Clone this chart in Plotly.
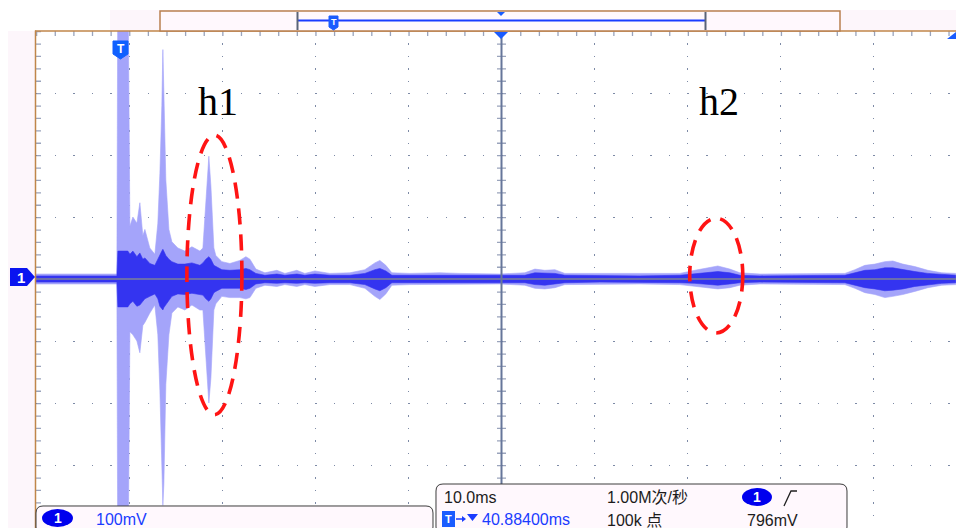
import plotly.graph_objects as go

# ---------------- data ----------------
# time relative to trigger (ms); envelope of trace (mV)
t_ms = [-9.12, -0.43, -0.32, 0.75, 0.97, 1.29, 1.72, 2.04, 2.36, 2.58, 3.11, 3.65, 3.97,
        4.19, 4.40, 4.51, 4.62, 4.83, 5.16, 5.48, 6.12, 6.87, 7.63, 8.49, 8.81, 9.13, 9.45,
        9.67, 9.99, 10.20, 10.85, 11.71, 12.78, 13.43, 13.86, 14.50, 15.47, 16.76, 17.62,
        18.90, 19.76, 20.84, 22.45, 24.60, 26.21, 27.28, 27.82, 28.46, 29.11, 31.04, 34.26,
        36.41, 40.71, 43.39, 44.47, 45.54, 46.62, 47.69, 51.45, 55.75, 60.04, 61.65, 63.26,
        64.12, 65.41, 66.49, 68.64, 72.93, 77.77, 78.84, 79.91, 80.99, 82.06, 82.92, 83.99,
        85.28, 86.68, 88.18, 89.69]
peak_hi = [8, 8, 520, 520, 85, 100, 90, 123, 70, 80, 50, 40, 90,
           170, 280, 370, 300, 160, 80, 60, 50, 45, 52, 45, 50, 130, 198,
           150, 50, 38, 28, 25, 30, 36, 32, 16, 10, 14, 9,
           14, 9, 13, 9, 10, 15, 26, 30, 22, 10, 9, 10,
           9, 8, 10, 16, 14, 15, 9, 9, 8, 9, 14, 18,
           21, 16, 10, 8, 8, 9, 15, 22, 24, 28, 29, 24,
           20, 14, 10, 9]
peak_lo = [-8, -8, -520, -520, -85, -90, -100, -119, -75, -70, -55, -42, -90,
           -180, -300, -365, -330, -170, -90, -55, -45, -50, -42, -50, -50, -130, -200,
           -160, -50, -40, -28, -30, -30, -32, -30, -15, -10, -12, -9,
           -12, -9, -12, -9, -9, -15, -28, -33, -24, -10, -9, -9,
           -9, -8, -10, -15, -16, -14, -9, -8, -8, -9, -12, -15,
           -16, -14, -10, -8, -8, -9, -15, -22, -25, -30, -28, -25,
           -20, -14, -10, -9]
dense_hi = [5, 5, 45, 45, 40, 45, 36, 42, 32, 34, 25, 22, 32,
            40, 45, 48, 45, 38, 32, 28, 24, 24, 26, 22, 26, 32, 36,
            32, 22, 20, 15, 14, 15, 17, 15, 9, 6, 8, 6,
            8, 6, 8, 6, 6, 9, 15, 17, 13, 6, 6, 6,
            6, 5, 6, 10, 9, 9, 6, 5, 5, 6, 8, 11,
            12, 10, 6, 5, 5, 6, 10, 14, 15, 18, 18, 15,
            12, 9, 7, 6]
dense_lo = [-5, -5, -45, -45, -40, -36, -44, -42, -36, -32, -28, -24, -32,
            -44, -48, -50, -46, -42, -36, -28, -24, -25, -23, -25, -26, -32, -36,
            -32, -22, -20, -15, -15, -15, -17, -15, -8, -6, -7, -6,
            -7, -6, -7, -6, -6, -9, -16, -19, -14, -6, -6, -6,
            -5, -5, -6, -9, -10, -8, -6, -5, -5, -6, -7, -9,
            -10, -8, -6, -5, -5, -6, -10, -14, -16, -19, -18, -16,
            -12, -9, -7, -6]

# scope settings
time_div_ms = 10.0
volt_div_mv = 100.0
trig_offset_ms = 40.884        # centre of screen relative to trigger
x_left_ms = trig_offset_ms - 5 * time_div_ms
x_right_ms = x_left_ms + 920 / 9.31
ellipse_h1 = dict(t0=7.09, t1=13.0, v0=-219, v1=232)
ellipse_h2 = dict(t0=61.1, t1=66.8, v0=-87, v1=98)
labels_top = ["h1", "h2"]

# ---------------- pixel helpers for decorations ----------------
L, T, W, H = 36, 31, 920, 496


def PX(x):
    return (x - L) / W


def PY(y):
    return (T + H - y) / H


def path(points, close=True):
    s = "M" + " L".join(f"{PX(x):.5f},{PY(y):.5f}" for x, y in points)
    return s + (" Z" if close else "")


def rrect(x0, y0, x1, y1, r):
    p = (f"M{PX(x0 + r):.5f},{PY(y0):.5f} L{PX(x1 - r):.5f},{PY(y0):.5f} "
         f"Q{PX(x1):.5f},{PY(y0):.5f} {PX(x1):.5f},{PY(y0 + r):.5f} "
         f"L{PX(x1):.5f},{PY(y1 - r):.5f} "
         f"Q{PX(x1):.5f},{PY(y1):.5f} {PX(x1 - r):.5f},{PY(y1):.5f} "
         f"L{PX(x0 + r):.5f},{PY(y1):.5f} "
         f"Q{PX(x0):.5f},{PY(y1):.5f} {PX(x0):.5f},{PY(y1 - r):.5f} "
         f"L{PX(x0):.5f},{PY(y0 + r):.5f} "
         f"Q{PX(x0):.5f},{PY(y0):.5f} {PX(x0 + r):.5f},{PY(y0):.5f} Z")
    return p


fig = go.Figure()

LAV = "#a4a4fa"
BLUE = "#3434f0"
fig.add_trace(go.Scatter(x=t_ms, y=peak_lo, mode="lines", line=dict(width=0.6, color=LAV),
                         hoverinfo="skip", showlegend=False))
fig.add_trace(go.Scatter(x=t_ms, y=peak_hi, mode="lines", line=dict(width=0.6, color=LAV),
                         fill="tonexty", fillcolor=LAV, hoverinfo="skip", showlegend=False))
fig.add_trace(go.Scatter(x=t_ms, y=dense_lo, mode="lines", line=dict(width=0.6, color=BLUE),
                         hoverinfo="skip", showlegend=False))
fig.add_trace(go.Scatter(x=t_ms, y=dense_hi, mode="lines", line=dict(width=0.6, color=BLUE),
                         fill="tonexty", fillcolor=BLUE, hoverinfo="skip", showlegend=False))

GRID = "#7d8aa6"
shapes = []
# pink surroundings
shapes.append(dict(type="rect", xref="paper", yref="paper", x0=PX(110), x1=PX(956), y0=PY(31), y1=PY(10),
                   fillcolor="#fdf6fb", line=dict(width=0), layer="below"))
shapes.append(dict(type="rect", xref="paper", yref="paper", x0=PX(8), x1=PX(35), y0=PY(528), y1=PY(31),
                   fillcolor="#fdf6fb", line=dict(width=0), layer="below"))
# centre cross tick marks
shapes.append(dict(type="line", xref="x", yref="paper", x0=trig_offset_ms, x1=trig_offset_ms, y0=1, y1=0,
                   line=dict(color="#9aa4bc", width=9, dash="1.3px,11.1px"), layer="below"))
shapes.append(dict(type="line", xref="paper", yref="y", x0=0, x1=1, y0=0, y1=0,
                   line=dict(color="#9aa4bc", width=7, dash="1.3px,17.32px"), layer="below"))
# border tick marks
shapes.append(dict(type="line", xref="paper", yref="paper", x0=PX(38.5), x1=PX(38.5), y0=1, y1=0,
                   line=dict(color="#9aa4bc", width=5, dash="1.3px,11.1px"), layer="below"))
shapes.append(dict(type="line", xref="paper", yref="paper", x0=0, x1=1, y0=PY(33.5), y1=PY(33.5),
                   line=dict(color="#9aa4bc", width=5, dash="1.3px,17.32px"), layer="below"))
# grey trace centre
shapes.append(dict(type="line", xref="paper", yref="y", x0=0, x1=1, y0=0, y1=0,
                   line=dict(color="#7c8098", width=1.5), layer="above"))
# trigger position line
shapes.append(dict(type="line", xref="x", yref="paper", x0=trig_offset_ms, x1=trig_offset_ms, y0=0, y1=1,
                   line=dict(color="#66769a", width=2), layer="above"))
# borders
shapes.append(dict(type="line", xref="paper", yref="paper", x0=PX(35.5), x1=PX(35.5), y0=PY(528), y1=PY(30.5),
                   line=dict(color="#c0864a", width=1.5), layer="above"))
shapes.append(dict(type="line", xref="paper", yref="paper", x0=PX(35), x1=PX(956), y0=PY(31), y1=PY(31),
                   line=dict(color="#c0864a", width=1.5), layer="above"))
# memory bar
shapes.append(dict(type="rect", xref="paper", yref="paper", x0=PX(160), x1=PX(840), y0=PY(31), y1=PY(11),
                   fillcolor="#fff8fd", line=dict(color="#b98050", width=1.5), layer="above"))
shapes.append(dict(type="line", xref="paper", yref="paper", x0=PX(297), x1=PX(706), y0=PY(20.5), y1=PY(20.5),
                   line=dict(color="#1a3cff", width=1.8), layer="above"))
for xb in (297.5, 705.5):
    shapes.append(dict(type="line", xref="paper", yref="paper", x0=PX(xb), x1=PX(xb), y0=PY(12), y1=PY(30),
                       line=dict(color="#5a6478", width=2), layer="above"))
shapes.append(dict(type="path", xref="paper", yref="paper", path=path([(497, 12), (505, 12), (501, 16)]),
                   fillcolor="#1a5cff", line=dict(width=0), layer="above"))
shapes.append(dict(type="path", xref="paper", yref="paper",
                   path=path([(329, 16), (338, 16), (338, 27), (333.5, 30), (329, 27)]),
                   fillcolor="#1a5cff", line=dict(color="#1a5cff", width=1), layer="above"))
# down triangle at top of trigger-position line
shapes.append(dict(type="path", xref="paper", yref="paper", path=path([(494, 32), (508, 32), (501, 39)]),
                   fillcolor="#1a5cff", line=dict(width=0), layer="above"))
# top-right trigger level marker
shapes.append(dict(type="path", xref="paper", yref="paper", path=path([(956, 32), (956, 39), (947, 39)]),
                   fillcolor="#1a5cff", line=dict(width=0), layer="above"))
# trigger T shield
shapes.append(dict(type="path", xref="paper", yref="paper",
                   path=path([(113, 41), (128, 41), (128, 54), (120.5, 59), (113, 54)]),
                   fillcolor="#1060ff", line=dict(color="#1060ff", width=1), layer="above"))
# channel 1 marker
shapes.append(dict(type="path", xref="paper", yref="paper",
                   path=path([(10, 268), (27, 268), (35, 277), (27, 286), (10, 286)]),
                   fillcolor="#0a14f0", line=dict(width=0), layer="above"))
# red dashed ellipses
for e in (ellipse_h1, ellipse_h2):
    shapes.append(dict(type="circle", xref="x", yref="y", x0=e["t0"], x1=e["t1"], y0=e["v0"], y1=e["v1"],
                       line=dict(color="#ff1414", width=3.6, dash="16px,10px"), layer="above"))
# bottom info boxes
shapes.append(dict(type="path", xref="paper", yref="paper", path=rrect(36, 506, 433, 534, 7),
                   fillcolor="#fff8fd", line=dict(color="#3c3c3c", width=1), layer="above"))
shapes.append(dict(type="path", xref="paper", yref="paper", path=rrect(436, 484, 847, 534, 7),
                   fillcolor="#fff8fd", line=dict(color="#3c3c3c", width=1), layer="above"))
shapes.append(dict(type="circle", xref="paper", yref="paper", x0=PX(42), x1=PX(73), y0=PY(527), y1=PY(509),
                   fillcolor="#0000ee", line=dict(width=0), layer="above"))
shapes.append(dict(type="circle", xref="paper", yref="paper", x0=PX(742), x1=PX(772), y0=PY(506), y1=PY(488),
                   fillcolor="#0000ee", line=dict(width=0), layer="above"))
shapes.append(dict(type="rect", xref="paper", yref="paper", x0=PX(442), x1=PX(455), y0=PY(527), y1=PY(511),
                   fillcolor="#1a5cff", line=dict(width=0), layer="above"))
shapes.append(dict(type="path", xref="paper", yref="paper",
                   path=path([(784, 506), (791, 491), (797, 491)], close=False),
                   fillcolor="rgba(0,0,0,0)", line=dict(color="#202020", width=1.3), layer="above"))
# small arrow + marker after the T square
shapes.append(dict(type="line", xref="paper", yref="paper", x0=PX(456), x1=PX(464), y0=PY(519), y1=PY(519),
                   line=dict(color="#1a3cff", width=1.5), layer="above"))
shapes.append(dict(type="path", xref="paper", yref="paper", path=path([(462, 516), (466, 519), (462, 522)]),
                   fillcolor="#1a3cff", line=dict(width=0), layer="above"))
shapes.append(dict(type="path", xref="paper", yref="paper", path=path([(467, 514), (478, 514), (472.5, 521)]),
                   fillcolor="#1a3cff", line=dict(width=0), layer="above"))

ann = []


def txt(x, y, s, size=16, color="#1c1c1c", xanchor="left", family="Liberation Sans, Noto Sans CJK SC",
        bold=False):
    ann.append(dict(x=PX(x), y=PY(y), xref="paper", yref="paper", text=(f"<b>{s}</b>" if bold else s),
                    showarrow=False, xanchor=xanchor, yanchor="middle",
                    font=dict(size=size, color=color, family=family)))


txt(218, 101, labels_top[0], size=40, color="#000000", xanchor="center", family="Liberation Serif")
txt(719, 101, labels_top[1], size=40, color="#000000", xanchor="center", family="Liberation Serif")
txt(120.5, 49, "T", size=12, color="#ffffff", xanchor="center", bold=True)
txt(333.5, 22, "T", size=9, color="#ffffff", xanchor="center", bold=True)
txt(21, 277, "1", size=15, color="#ffffff", xanchor="center", bold=True)
txt(57.5, 518, "1", size=14, color="#ffffff", xanchor="center", bold=True)
txt(94, 519, "100mV", size=16, color="#1a3cff")
txt(442, 497, "10.0ms", size=16)
txt(605, 497, "1.00M次/秒", size=16)
txt(757, 497, "1", size=14, color="#ffffff", xanchor="center", bold=True)
txt(745, 520, "796mV", size=16)
txt(605, 520, "100k 点", size=16)
txt(448.5, 519, "T", size=11, color="#ffffff", xanchor="center", bold=True)
txt(480, 519, "40.88400ms", size=16, color="#1a3cff")

fig.update_layout(
    width=956, height=528,
    margin=dict(l=L, r=0, t=T, b=528 - T - H, pad=0),
    paper_bgcolor="#ffffff", plot_bgcolor="#ffffff",
    shapes=shapes, annotations=ann, showlegend=False,
    xaxis=dict(range=[x_left_ms, x_right_ms], tick0=x_left_ms, dtick=time_div_ms,
               showgrid=True, gridcolor=GRID, gridwidth=1.3, griddash="1.3px,11.1px",
               zeroline=False, showticklabels=False, ticks="", showline=False, fixedrange=True),
    yaxis=dict(range=[-4 * volt_div_mv, 4 * volt_div_mv], tick0=0, dtick=volt_div_mv,
               showgrid=True, gridcolor=GRID, gridwidth=1.3, griddash="1.3px,17.32px",
               zeroline=False, showticklabels=False, ticks="", showline=False, fixedrange=True),
)

fig.write_html("out.html", config={"displayModeBar": False})
